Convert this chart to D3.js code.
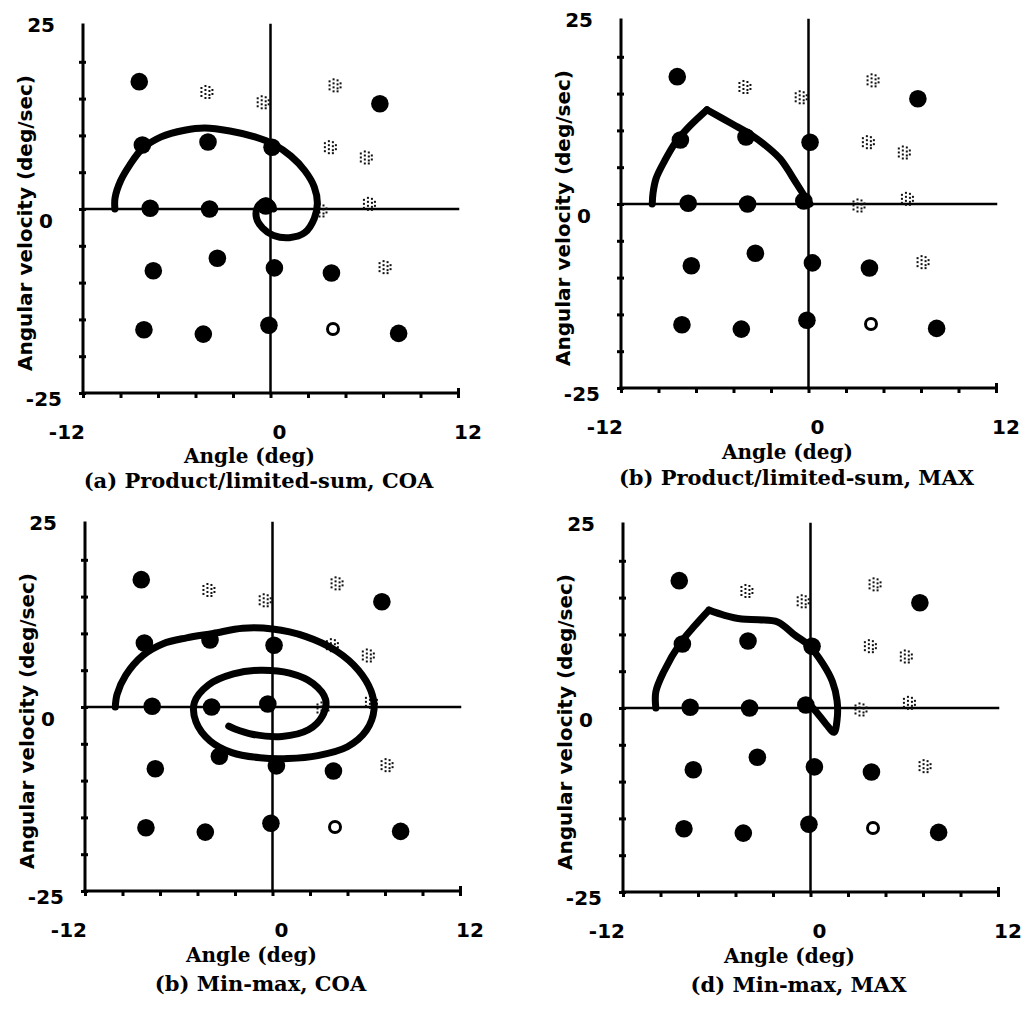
<!DOCTYPE html>
<html>
<head>
<meta charset="utf-8">
<script src="https://cdn.jsdelivr.net/npm/d3@7"></script>
<style>
  html, body { margin: 0; padding: 0; background: #fff; }
  svg { display: block; }
</style>
</head>
<body>
<svg id="chart" width="1031" height="1009"></svg>
<script>
// Axis domains and tick marks (angle in deg, angular velocity in deg/sec)
const angleDomain = [-12, 12];
const velocityDomain = [-25, 25];
const angleTicks = [-12, -9.6, -7.2, -4.8, -2.4, 0, 2.4, 4.8, 7.2, 9.6, 12];
const velocityTicks = [20, 15, 10, 5, 0, -5, -10, -15, -20, -25];
const angleTickLabels = [-12, 0, 12];
const velocityTickLabels = [25, 0, -25];

// Rule-base outputs at each (angle, velocity) centre: full, partial, zero
const fullRules = [
  [-8.4, 17.3], [7.0, 14.3],
  [-8.2, 8.7], [-4.0, 9.1], [0.1, 8.4],
  [-7.7, 0.1], [-3.9, 0.0], [-0.3, 0.4],
  [-7.5, -8.4], [-3.4, -6.7], [0.25, -8.0], [3.9, -8.7],
  [-8.1, -16.4], [-4.3, -17.0], [-0.1, -15.8], [8.2, -16.9]
];
const partialRules = [
  [-4.1, 15.9], [-0.5, 14.5], [4.1, 16.8],
  [3.8, 8.4], [6.1, 7.0],
  [3.2, -0.2], [6.3, 0.7],
  [7.3, -7.9]
];
const zeroRules = [[4.0, -16.3]];

// Phase-plane trajectories, one per controller variant
const trajectoryProdCOA = [
  [-9.96, 0], [-9.95, 1.5], [-9.6, 3.8], [-9.0, 6.0], [-8.2, 8.2], [-7.0, 9.8],
  [-5.5, 10.7], [-4.2, 11.0], [-2.6, 10.6], [-1.0, 9.8], [0.2, 8.8], [1.3, 7.2],
  [2.2, 5.2], [2.8, 3.0], [3.0, 0.8], [2.8, -1.3], [2.2, -3.2], [1.2, -3.9],
  [0.2, -3.6], [-0.5, -2.6], [-0.9, -1.2], [-0.8, 0.4], [-0.3, 1.1], [0.1, 0.6], [0.2, 0]
];
const trajectoryProdMAX = [
  [-10.0, 0], [-9.95, 1.5], [-9.75, 3.5], [-9.2, 5.9], [-8.5, 8.4], [-7.6, 10.6],
  [-6.5, 12.8], [-4.9, 10.9], [-3.6, 9.3], [-2.6, 7.7], [-1.8, 6.1], [-0.74, 2.7],
  [-0.2, 0.9], [0.1, 0]
];
const trajectoryMinMaxCOA = [
  [-10.06, 0], [-9.95, 1.7], [-9.4, 4.3], [-8.3, 7.0], [-7.0, 8.6], [-5.5, 9.4],
  [-3.8, 10.0], [-1.9, 10.7], [0, 10.6], [2.1, 9.6], [4.1, 7.6], [5.5, 5.0],
  [6.3, 2.2], [6.5, -0.3], [6.0, -3.2], [4.8, -5.4], [2.9, -6.6], [1.0, -7.0],
  [-0.8, -6.9], [-2.6, -6.2], [-4.0, -4.6], [-4.9, -2.0], [-5.0, 0.6], [-4.1, 3.0],
  [-2.5, 4.5], [-0.8, 5.0], [1.1, 4.6], [2.6, 3.2], [3.4, 1.0], [3.2, -1.2],
  [2.3, -3.1], [0.6, -4.0], [-1.3, -3.7], [-2.4, -3.0], [-2.8, -2.6]
];
const trajectoryMinMaxMAX = [
  [-9.9, 0], [-9.9, 2.2], [-9.4, 4.9], [-8.3, 8.9], [-7.4, 11.2], [-6.5, 13.3],
  [-5.5, 12.6], [-4.4, 12.1], [-3.3, 12.0], [-2.1, 11.7], [-1.0, 9.9], [-0.1, 8.5],
  [0.8, 6.0], [1.4, 3.6], [1.7, 1.0], [1.7, -1.6], [1.5, -3.3], [1.0, -2.2],
  [0.4, -0.6], [-0.1, 0.6]
];

const panelCaptions = [
  "(a) Product/limited-sum, COA",
  "(b) Product/limited-sum, MAX",
  "(b) Min-max, COA",
  "(d) Min-max, MAX"
];
const angleTitle = "Angle (deg)";
const velocityTitle = "Angular velocity (deg/sec)";

// Panel placement on the page; sharpPeak draws the top of the trajectory as a corner
const W = 375, H = 368;
const panels = [
  { left: 83,  top: 25,  path: trajectoryProdCOA,   sharpPeak: false, caption: panelCaptions[0], titleDy: 63, capDy: 87 },
  { left: 621, top: 20,  path: trajectoryProdMAX,   sharpPeak: true,  caption: panelCaptions[1], titleDy: 64, capDy: 89 },
  { left: 85,  top: 523, path: trajectoryMinMaxCOA, sharpPeak: false, caption: panelCaptions[2], titleDy: 64, capDy: 92 },
  { left: 623, top: 524, path: trajectoryMinMaxMAX, sharpPeak: true,  caption: panelCaptions[3], titleDy: 64, capDy: 92 }
];

// Small dot cluster used for the partial-output marker
const partialDots = [
  [-5, -4], [-5, 0], [-5, 4],
  [-1, -6], [-1, -2], [-1, 2], [-1, 6],
  [3, -5], [3, -1], [3, 3], [3, 6],
  [6, -2], [6, 2]
];

const svg = d3.select("#chart");
const sansBold = "'DejaVu Sans', sans-serif";
const serifBold = "'DejaVu Serif', serif";

panels.forEach(p => {
  const g = svg.append("g").attr("transform", `translate(${p.left},${p.top})`);
  const x = d3.scaleLinear().domain(angleDomain).range([0, W]);
  const y = d3.scaleLinear().domain(velocityDomain).range([H, 0]);

  // tick marks
  const ya = g.append("g").call(
    d3.axisLeft(y).tickValues(velocityTicks).tickSize(4).tickFormat("")
  );
  ya.select(".domain").remove();
  ya.selectAll(".tick line").attr("x1", 3).attr("stroke-width", 3).attr("stroke", "#000");

  const xa = g.append("g").attr("transform", `translate(0,${H})`).call(
    d3.axisBottom(x).tickValues(angleTicks).tickSize(5).tickFormat("")
  );
  xa.select(".domain").remove();
  xa.selectAll(".tick line")
    .attr("y1", d => d === 12 ? -5 : -1)
    .attr("stroke-width", 3).attr("stroke", "#000");

  // frame and zero lines
  const lines = [
    { x1: -12, y1: 25, x2: -12, y2: -25, w: 3 },
    { x1: -12, y1: -25, x2: 12, y2: -25, w: 3 },
    { x1: 0, y1: 25, x2: 0, y2: -25, w: 2.5 },
    { x1: -12, y1: 0, x2: 12, y2: 0, w: 2.5 }
  ];
  g.selectAll("line.frame").data(lines).join("line")
    .attr("class", "frame")
    .attr("x1", d => x(d.x1)).attr("y1", d => y(d.y1))
    .attr("x2", d => x(d.x2)).attr("y2", d => y(d.y2))
    .attr("stroke", "#000").attr("stroke-width", d => d.w)
    .attr("stroke-linecap", "square");

  // partial-output markers
  g.selectAll("g.partial").data(partialRules).join("g")
    .attr("class", "partial")
    .attr("transform", d => `translate(${x(d[0])},${y(d[1])})`)
    .selectAll("rect").data(partialDots).join("rect")
    .attr("x", d => d[0] - 1).attr("y", d => d[1] - 1)
    .attr("width", 2).attr("height", 2)
    .attr("fill", "#111");

  // full-output markers
  g.selectAll("circle.full").data(fullRules).join("circle")
    .attr("class", "full")
    .attr("cx", d => x(d[0])).attr("cy", d => y(d[1]))
    .attr("r", 8.8).attr("fill", "#000");

  // zero-output marker
  g.selectAll("circle.zero").data(zeroRules).join("circle")
    .attr("class", "zero")
    .attr("cx", d => x(d[0])).attr("cy", d => y(d[1]))
    .attr("r", 5.5).attr("fill", "#fff").attr("stroke", "#000").attr("stroke-width", 3);

  // trajectory (split at the peak where the path turns sharply)
  const line = d3.line().x(d => x(d[0])).y(d => y(d[1])).curve(d3.curveCatmullRom.alpha(0.5));
  let pieces = [p.path];
  if (p.sharpPeak) {
    const k = d3.maxIndex(p.path, d => d[1]);
    pieces = [p.path.slice(0, k + 1), p.path.slice(k)];
  }
  g.selectAll("path.traj").data(pieces).join("path")
    .attr("class", "traj")
    .attr("d", line)
    .attr("fill", "none").attr("stroke", "#000")
    .attr("stroke-width", 7).attr("stroke-linecap", "round").attr("stroke-linejoin", "round");

  // tick labels
  const vOffsets = { "25": 0, "0": 12, "-25": 6 };
  const vRight = { "25": -28, "0": -30, "-25": -21 };
  g.selectAll("text.vlab").data(velocityTickLabels).join("text")
    .attr("class", "vlab")
    .attr("x", d => x(-12) + vRight[d]).attr("y", d => y(d) + vOffsets[d])
    .attr("text-anchor", "end").attr("dominant-baseline", "central")
    .attr("font-family", sansBold).attr("font-weight", "bold").attr("font-size", 20)
    .text(d => d);

  const aOffsets = { "-12": 2, "0": 9, "12": 10 };
  const aAnchor = { "-12": "end", "0": "middle", "12": "middle" };
  g.selectAll("text.alab").data(angleTickLabels).join("text")
    .attr("class", "alab")
    .attr("x", d => x(d) + aOffsets[d]).attr("y", y(-25) + 39)
    .attr("text-anchor", d => aAnchor[d]).attr("dominant-baseline", "central")
    .attr("font-family", sansBold).attr("font-weight", "bold").attr("font-size", 20)
    .text(d => d);

  // axis titles
  g.append("text")
    .attr("transform", `translate(${x(-12) - 58},${y(0) + 14}) rotate(-90)`)
    .attr("text-anchor", "middle").attr("dominant-baseline", "central")
    .attr("font-family", sansBold).attr("font-weight", "bold").attr("font-size", 20)
    .text(velocityTitle);

  g.append("text")
    .attr("x", x(0) - 21).attr("y", y(-25) + p.titleDy)
    .attr("text-anchor", "middle").attr("dominant-baseline", "central")
    .attr("font-family", serifBold).attr("font-weight", "bold").attr("font-size", 20)
    .text(angleTitle);

  g.append("text")
    .attr("x", x(0) - 12).attr("y", y(-25) + p.capDy)
    .attr("text-anchor", "middle").attr("dominant-baseline", "central")
    .attr("font-family", serifBold).attr("font-weight", "bold").attr("font-size", 21)
    .text(p.caption);
});
</script>
</body>
</html>
